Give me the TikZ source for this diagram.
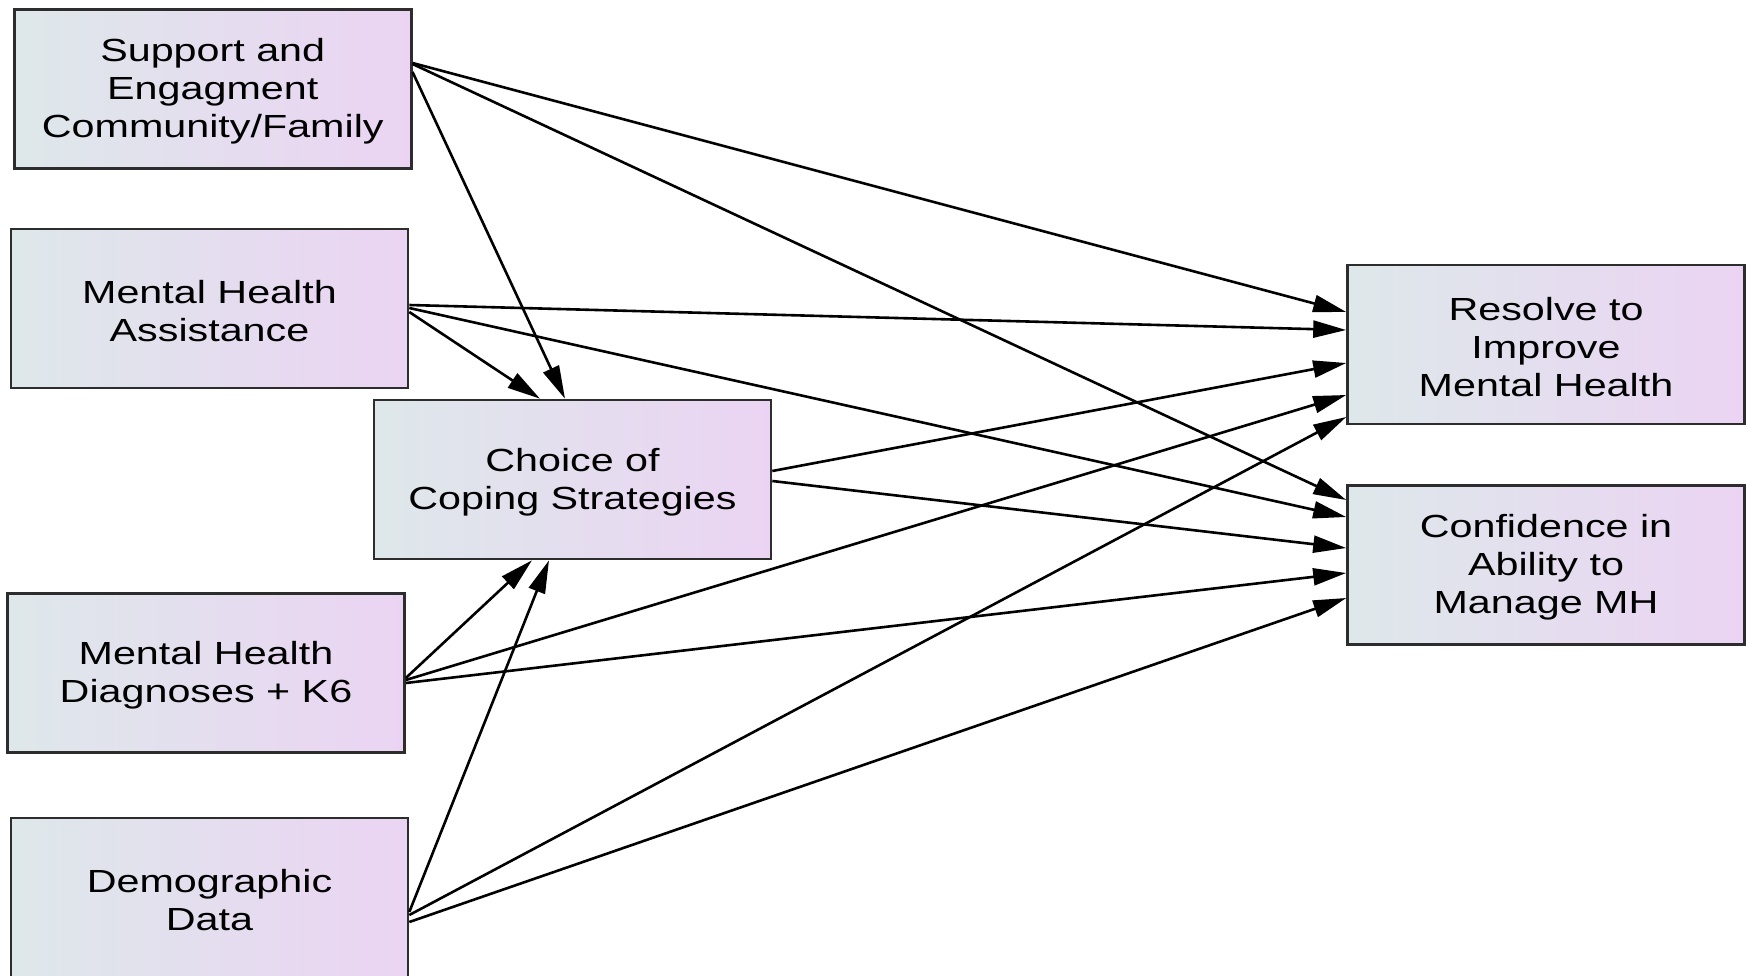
\documentclass[tikz,border=0pt]{standalone}
\usepackage{fontspec}
\setmainfont[FakeStretch=1.29]{Liberation Sans}
\usetikzlibrary{arrows.meta,calc}
\definecolor{gl}{RGB}{222,232,234}
\definecolor{gr}{RGB}{235,212,243}
\definecolor{bd}{RGB}{45,45,45}
\newcommand{\topstrut}{\rule{0pt}{14pt}}
\begin{document}
\begin{tikzpicture}[x=0.5pt,y=-0.5pt,
  box/.style={draw=bd, line width=1.3pt, left color=gl, right color=gr,
    minimum width=198.5pt, minimum height=79.5pt, inner sep=0pt,
    align=center, font=\fontsize{16}{19}\selectfont},
  edge/.style={line width=1.3pt, -{Triangle[length=16.5pt,width=8.5pt]}}]
\useasboundingbox (0,0) rectangle (1750,975);
\node[box] (sup) at (212.75,89) {\topstrut Support and\\Engagment\\Community/Family};
\node[box] (mha) at (209.5,308.5) {\topstrut Mental Health\\Assistance};
\node[box] (cho) at (572.5,479.5) {\topstrut Choice of\\Coping Strategies};
\node[box] (mhd) at (206,673) {\topstrut Mental Health\\Diagnoses + K6};
\node[box] (dem) at (209.5,897.5) {\topstrut Demographic\\Data};
\node[box] (res) at (1546,344.5) {\topstrut Resolve to\\Improve\\Mental Health};
\node[box] (con) at (1546,565) {\topstrut Confidence in\\Ability to\\Manage MH};
% Support
\draw[edge] ($(sup.east)+(0,-17)$) -- ($(cho.north)+(-7.5,0)$);
\draw[edge] ($(sup.east)+(0,-26)$) -- ($(res.west)+(0,-32.5)$);
\draw[edge] ($(sup.east)+(0,-25)$) -- ($(con.west)+(0,-65)$);
% MH Assistance
\draw[edge] ($(mha.east)+(0,3.5)$) -- ($(cho.north)+(-32.5,0)$);
\draw[edge] ($(mha.east)+(0,-3.5)$) -- ($(res.west)+(0,-14.5)$);
\draw[edge] ($(mha.east)+(0,-0.5)$) -- ($(con.west)+(0,-48)$);
% Choice
\draw[edge] ($(cho.east)+(0,-8.5)$) -- ($(res.west)+(0,18.5)$);
\draw[edge] ($(cho.east)+(0,1.5)$) -- ($(con.west)+(0,-17)$);
% MH Diagnoses
\draw[edge] ($(mhd.east)+(0,5)$) -- ($(cho.south)+(-40.5,0)$);
\draw[edge] ($(mhd.east)+(0,7)$) -- ($(res.west)+(0,50.5)$);
\draw[edge] ($(mhd.east)+(0,10)$) -- ($(con.west)+(0,8)$);
% Demographic
\draw[edge] ($(dem.east)+(0,14.5)$) -- ($(cho.south)+(-23.5,0)$);
\draw[edge] ($(dem.east)+(0,17.5)$) -- ($(res.west)+(0,72.5)$);
\draw[edge] ($(dem.east)+(0,24.5)$) -- ($(con.west)+(0,33)$);
\end{tikzpicture}
\end{document}
